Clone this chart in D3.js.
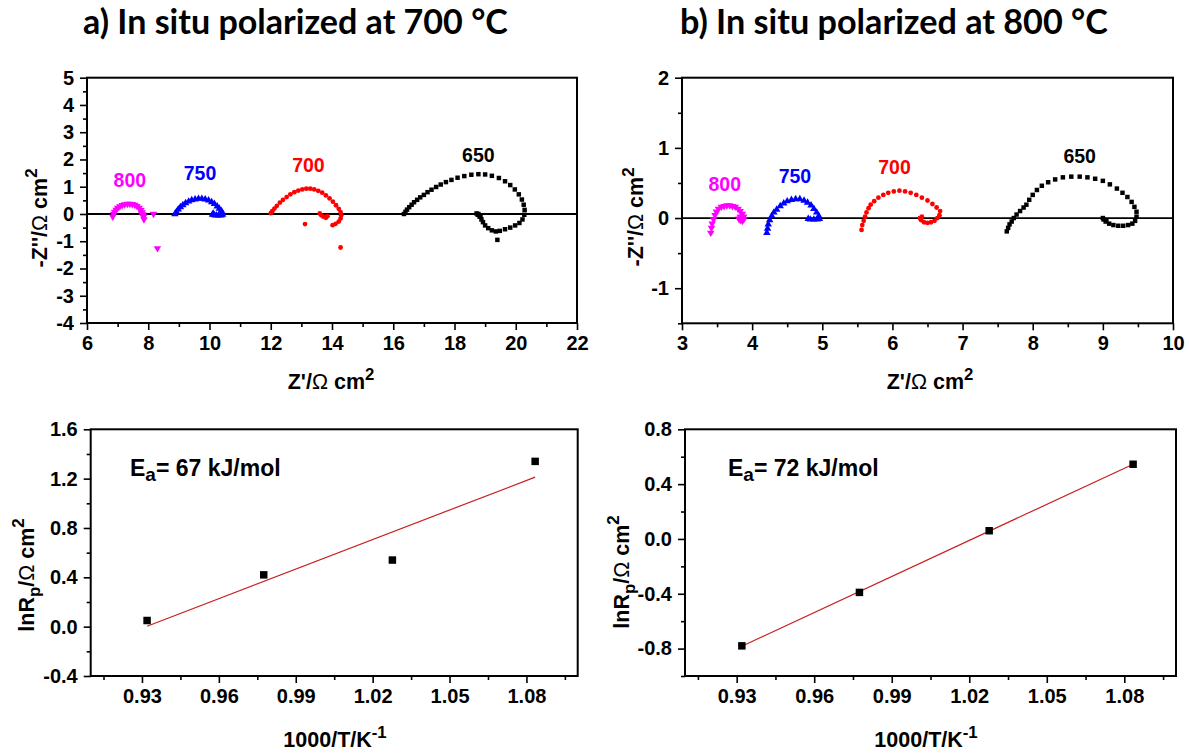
<!DOCTYPE html>
<html><head><meta charset="utf-8">
<script src="https://cdn.jsdelivr.net/npm/d3@7"></script>
<style>body{margin:0;background:#fff}svg{display:block}</style>
</head><body>
<svg id="chart" width="1189" height="755"></svg>
<script>
// ---------------- DATA ----------------
const temperatures = ["800", "750", "700", "650"];

// Panel a) Nyquist, polarized at 700 °C  [Z', -Z'']
const a800 = [[6.84,-0.10],[6.87,0.0],[6.9,0.08],[6.95,0.15],[7.0,0.22],[7.07,0.28],[7.15,0.32],[7.23,0.35],[7.32,0.37],[7.4,0.37],[7.48,0.36],[7.56,0.33],[7.63,0.29],[7.7,0.22],[7.76,0.14],[7.8,0.06],[7.83,-0.02],[7.85,-0.1],[7.86,-0.2],[7.82,-0.05],[7.78,0.02],[8.17,0.0],[8.3,-1.26]];
const a750 = [[8.87,0.0],[8.92,0.08],[8.98,0.17],[9.05,0.25],[9.13,0.33],[9.22,0.4],[9.32,0.46],[9.42,0.51],[9.53,0.54],[9.64,0.56],[9.75,0.56],[9.86,0.54],[9.97,0.5],[10.07,0.44],[10.16,0.37],[10.25,0.28],[10.32,0.2],[10.38,0.12],[10.42,0.05],[10.43,-0.02],[10.38,-0.05],[10.3,-0.05],[10.22,-0.05],[10.15,-0.04],[10.1,-0.02],[10.12,0.02]];
const a700 = [[12.0,0.03],[12.05,0.1],[12.12,0.2],[12.2,0.3],[12.3,0.42],[12.4,0.52],[12.52,0.62],[12.64,0.72],[12.77,0.8],[12.9,0.86],[13.03,0.9],[13.16,0.93],[13.29,0.93],[13.42,0.9],[13.55,0.85],[13.68,0.78],[13.8,0.68],[13.92,0.57],[14.03,0.45],[14.13,0.32],[14.22,0.19],[14.28,0.07],[14.3,-0.05],[14.28,-0.17],[14.22,-0.28],[14.12,-0.36],[14.02,-0.41],[13.6,0.02],[13.65,-0.05],[13.72,-0.1],[13.8,-0.14],[13.85,-0.08],[13.12,-0.37],[14.28,-1.23]];
const a650 = [[16.35,0.0],[16.4,0.08],[16.45,0.16],[16.52,0.25],[16.6,0.34],[16.68,0.43],[16.78,0.52],[16.88,0.61],[17.0,0.7],[17.12,0.8],[17.25,0.89],[17.4,0.99],[17.55,1.08],[17.72,1.17],[17.9,1.25],[18.1,1.33],[18.32,1.39],[18.55,1.44],[18.78,1.46],[19.0,1.45],[19.22,1.4],[19.45,1.32],[19.65,1.2],[19.82,1.06],[19.97,0.9],[20.1,0.72],[20.2,0.53],[20.26,0.34],[20.29,0.15],[20.28,-0.03],[20.22,-0.2],[20.12,-0.33],[19.98,-0.42],[19.82,-0.5],[19.65,-0.56],[19.48,-0.62],[19.35,-0.64],[19.22,-0.6],[19.1,-0.52],[19.0,-0.42],[18.93,-0.3],[18.88,-0.2],[18.82,-0.1],[18.76,-0.03],[18.72,0.02],[18.78,0.0],[18.85,-0.06],[19.4,-0.95]];

// Panel b) Nyquist, polarized at 800 °C
const b800 = [[3.41,-0.21],[3.42,-0.14],[3.43,-0.08],[3.45,-0.02],[3.47,0.04],[3.49,0.09],[3.52,0.13],[3.56,0.16],[3.6,0.17],[3.64,0.18],[3.68,0.18],[3.72,0.17],[3.76,0.16],[3.8,0.13],[3.83,0.1],[3.86,0.06],[3.88,0.02],[3.88,-0.02],[3.86,-0.04],[3.83,-0.03],[3.81,-0.01],[3.83,0.02]];
const b750 = [[4.21,-0.21],[4.22,-0.15],[4.23,-0.09],[4.25,-0.03],[4.28,0.03],[4.31,0.08],[4.35,0.12],[4.4,0.17],[4.45,0.21],[4.5,0.24],[4.56,0.26],[4.62,0.27],[4.68,0.27],[4.74,0.25],[4.79,0.22],[4.84,0.18],[4.88,0.13],[4.92,0.08],[4.95,0.03],[4.96,-0.01],[4.93,-0.02],[4.88,-0.02],[4.83,-0.02],[4.8,-0.01]];
const b700 = [[5.56,-0.17],[5.57,-0.1],[5.59,-0.04],[5.61,0.02],[5.63,0.08],[5.66,0.14],[5.69,0.19],[5.74,0.24],[5.8,0.29],[5.87,0.33],[5.94,0.36],[6.02,0.38],[6.1,0.39],[6.18,0.38],[6.26,0.36],[6.34,0.33],[6.42,0.29],[6.5,0.25],[6.57,0.2],[6.63,0.15],[6.68,0.1],[6.67,0.04],[6.64,0.0],[6.6,-0.04],[6.55,-0.06],[6.5,-0.07],[6.45,-0.06],[6.41,-0.03],[6.39,0.0],[6.42,0.02]];
const b650 = [[7.63,-0.19],[7.65,-0.14],[7.67,-0.09],[7.7,-0.05],[7.73,0.0],[7.77,0.05],[7.82,0.1],[7.87,0.15],[7.91,0.19],[7.95,0.26],[8.0,0.33],[8.06,0.4],[8.13,0.46],[8.22,0.51],[8.32,0.55],[8.43,0.58],[8.55,0.59],[8.67,0.59],[8.78,0.58],[8.89,0.56],[9.0,0.53],[9.1,0.48],[9.2,0.42],[9.28,0.36],[9.35,0.3],[9.41,0.23],[9.45,0.16],[9.48,0.09],[9.48,0.02],[9.46,-0.04],[9.42,-0.08],[9.36,-0.1],[9.29,-0.11],[9.22,-0.11],[9.15,-0.1],[9.09,-0.08],[9.04,-0.05],[9.01,-0.02],[9.0,0.0],[9.05,-0.03]];

// Arrhenius plots
const invT = [0.932, 0.9775, 1.0277, 1.0834];      // 1000/T (K^-1)
const lnRpA = [0.05, 0.42, 0.54, 1.34];
const lnRpB = [-0.78, -0.39, 0.06, 0.545];
const eaValues = ["67", "72"];

// Tick labels
const xTicksTopA = [6, 8, 10, 12, 14, 16, 18, 20, 22];
const yTicksTopA = [-4, -3, -2, -1, 0, 1, 2, 3, 4, 5];
const xTicksTopB = [3, 4, 5, 6, 7, 8, 9, 10];
const yTicksTopB = [-1, 0, 1, 2];
const xTicksBottom = [0.93, 0.96, 0.99, 1.02, 1.05, 1.08];
const yTicksBottomA = [-0.4, 0.0, 0.4, 0.8, 1.2, 1.6];
const yTicksBottomB = [-0.8, -0.4, 0.0, 0.4, 0.8];

const titles = ["a) In situ polarized at 700 °C", "b) In situ polarized at 800 °C"];

// ---------------- DRAWING ----------------
const svg = d3.select("#chart");
const FONT = "'Liberation Sans', Arial, sans-serif";
const seriesColor = {"800": "#ff00ff", "750": "#0000ff", "700": "#ff0000", "650": "#000000"};
const seriesSymbol = {"800": "down", "750": "up", "700": "circle", "650": "square"};
const hy = f => d => f(d).replace("\u2212", "-");
const TICK_FS = 20, TITLE_FS = 21.5;

function minorBetween(major, step, lo, hi) {
  const out = [];
  for (let v = major[0] - step; v <= hi + 1e-9; v += step) {
    if (v < lo - 1e-9) continue;
    if (major.some(m => Math.abs(m - v) < step / 10)) continue;
    out.push(+v.toFixed(4));
  }
  return out;
}

function frame(x, y, o) {
  const [x0, x1] = x.range(), [y0, y1] = y.range();
  const g = svg.append("g");
  const style = sel => {
    sel.select(".domain").remove();
    sel.selectAll(".tick line").attr("stroke", "#000").attr("stroke-width", 1.6);
    sel.selectAll(".tick text").attr("font-family", FONT).attr("font-weight", "bold")
      .attr("font-size", TICK_FS).attr("fill", "#000");
  };
  g.append("g").attr("transform", `translate(0,${y0})`)
    .call(d3.axisBottom(x).tickValues(o.xMinor).tickSize(4).tickSizeOuter(0).tickFormat("")).call(style);
  g.append("g").attr("transform", `translate(0,${y0})`)
    .call(d3.axisBottom(x).tickValues(o.xMajor).tickSize(7).tickPadding(6).tickSizeOuter(0).tickFormat(o.fx)).call(style);
  g.append("g").attr("transform", `translate(${x0},0)`)
    .call(d3.axisLeft(y).tickValues(o.yMinor).tickSize(4).tickSizeOuter(0).tickFormat("")).call(style);
  g.append("g").attr("transform", `translate(${x0},0)`)
    .call(d3.axisLeft(y).tickValues(o.yMajor).tickSize(7).tickPadding(6).tickSizeOuter(0).tickFormat(o.fy)).call(style);
  g.append("rect").attr("x", x0).attr("y", y1).attr("width", x1 - x0).attr("height", y0 - y1)
    .attr("fill", "none").attr("stroke", "#000").attr("stroke-width", 2);
  return g;
}

function symbolPath(kind, size) {
  const t = {down: d3.symbolTriangle, up: d3.symbolTriangle, circle: d3.symbolCircle, square: d3.symbolSquare}[kind];
  return d3.symbol().type(t).size(size)();
}

function label(g, parts, x, y, rotate, size) {
  const t = g.append("text").attr("font-family", FONT).attr("font-weight", "bold")
    .attr("font-size", size).attr("fill", "#000").attr("text-anchor", "middle")
    .attr("transform", `translate(${x},${y})` + (rotate ? " rotate(-90)" : ""));
  parts.forEach(p => {
    const s = t.append("tspan").text(p.t);
    if (p.sup) s.attr("font-size", size * 0.78).attr("dy", -size * 0.42);
    if (p.sub) s.attr("font-size", size * 0.78).attr("dy", size * 0.3);
    if (p.back) s.attr("dy", p.back);
    if (p.light) s.attr("font-weight", "normal");
  });
  return t;
}

function nyquist(o) {
  const x = d3.scaleLinear().domain(o.xd).range(o.xr);
  const y = d3.scaleLinear().domain(o.yd).range(o.yr);
  const g = frame(x, y, o);
  g.append("line").attr("x1", o.xr[0]).attr("x2", o.xr[1]).attr("y1", y(0)).attr("y2", y(0))
    .attr("stroke", "#000").attr("stroke-width", 1.8);
  o.series.forEach((pts, i) => {
    const key = temperatures[i];
    const kind = seriesSymbol[key];
    const size = kind === "circle" ? 18 : kind === "square" ? 20 : 24;
    g.append("g").selectAll("path").data(pts).join("path")
      .attr("d", symbolPath(kind, size))
      .attr("transform", d => `translate(${x(d[0])},${y(d[1])})` + (kind === "down" ? " rotate(180)" : ""))
      .attr("fill", seriesColor[key]);
    const lp = o.labelPos[i];
    g.append("text").attr("x", x(lp[0])).attr("y", y(lp[1])).attr("text-anchor", "middle")
      .attr("font-family", FONT).attr("font-weight", "bold").attr("font-size", 19.5)
      .attr("fill", seriesColor[key]).text(key);
  });
  label(g, [{t: "Z'/"}, {t: "\u03A9", light: true}, {t: " cm"}, {t: "2", sup: true}], o.xLabel[0], o.xLabel[1], false, TITLE_FS);
  label(g, [{t: "-Z''/"}, {t: "\u03A9", light: true}, {t: " cm"}, {t: "2", sup: true}], o.yLabel[0], o.yLabel[1], true, TITLE_FS);
}

function arrhenius(o) {
  const x = d3.scaleLinear().domain(o.xd).range(o.xr);
  const y = d3.scaleLinear().domain(o.yd).range(o.yr);
  const g = frame(x, y, o);
  const vals = o.xs.map((v, i) => [v, o.ys[i]]);
  // least squares fit
  const mx = d3.mean(o.xs), my = d3.mean(o.ys);
  const slope = d3.sum(vals, d => (d[0] - mx) * (d[1] - my)) / d3.sum(vals, d => (d[0] - mx) ** 2);
  const icpt = my - slope * mx;
  const xe = d3.extent(o.xs);
  g.append("line").attr("x1", x(xe[0])).attr("x2", x(xe[1]))
    .attr("y1", y(icpt + slope * xe[0])).attr("y2", y(icpt + slope * xe[1]))
    .attr("stroke", "#c82020").attr("stroke-width", 1.2);
  g.append("g").selectAll("path").data(vals).join("path")
    .attr("d", symbolPath("square", 56))
    .attr("transform", d => `translate(${x(d[0])},${y(d[1])})`).attr("fill", "#000");
  const t = g.append("text").attr("x", o.eaPos[0]).attr("y", o.eaPos[1]).attr("font-family", FONT)
    .attr("font-weight", "bold").attr("font-size", 23).attr("fill", "#000");
  t.append("tspan").text("E");
  t.append("tspan").text("a").attr("font-size", 19).attr("dy", 5);
  t.append("tspan").text("= " + o.ea + " kJ/mol").attr("dy", -5);
  label(g, [{t: "1000/T/K"}, {t: "-1", sup: true}], o.xLabel[0], o.xLabel[1], false, TITLE_FS);
  label(g, [{t: "lnR"}, {t: "p", sub: true}, {t: "/", back: -TITLE_FS * 0.3}, {t: "\u03A9", light: true}, {t: " cm"}, {t: "2", sup: true}], o.yLabel[0], o.yLabel[1], true, TITLE_FS);
}

const f0 = hy(d3.format("d")), f1 = hy(d3.format(".1f")), f2 = hy(d3.format(".2f"));

nyquist({xd: [6, 22], xr: [87, 577], yd: [-4, 5], yr: [323, 77.7],
  xMajor: xTicksTopA, xMinor: minorBetween(xTicksTopA, 1, 6, 22),
  yMajor: yTicksTopA, yMinor: minorBetween(yTicksTopA, 0.5, -4, 5), fx: f0, fy: f0,
  series: [a800, a750, a700, a650],
  labelPos: [[7.40, 0.98], [9.69, 1.245], [13.23, 1.55], [18.78, 1.92]],
  xLabel: [331, 389], yLabel: [46.5, 218]});

nyquist({xd: [3, 10], xr: [682, 1173], yd: [-1.5, 2], yr: [323.3, 77.7],
  xMajor: xTicksTopB, xMinor: minorBetween(xTicksTopB, 0.5, 3, 10),
  yMajor: yTicksTopB, yMinor: minorBetween(yTicksTopB, 0.5, -1.5, 2), fx: f0, fy: f0,
  series: [b800, b750, b700, b650],
  labelPos: [[3.61, 0.385], [4.61, 0.50], [6.03, 0.63], [8.67, 0.79]],
  xLabel: [930, 389], yLabel: [643, 217]});

arrhenius({xd: [0.91, 1.10], xr: [90.7, 577.7], yd: [-0.4, 1.6], yr: [676, 429.3],
  xMajor: xTicksBottom, xMinor: minorBetween(xTicksBottom, 0.015, 0.91, 1.10),
  yMajor: yTicksBottomA, yMinor: minorBetween(yTicksBottomA, 0.2, -0.4, 1.6), fx: f2, fy: f1,
  xs: invT, ys: lnRpA, ea: eaValues[0], eaPos: [130, 476],
  xLabel: [335, 747], yLabel: [33.5, 575]});

arrhenius({xd: [0.91, 1.10], xr: [685, 1176], yd: [-1.0, 0.8], yr: [676, 429.3],
  xMajor: xTicksBottom, xMinor: minorBetween(xTicksBottom, 0.015, 0.91, 1.10),
  yMajor: yTicksBottomB, yMinor: minorBetween(yTicksBottomB, 0.2, -1.0, 0.8), fx: f2, fy: f1,
  xs: invT, ys: lnRpB, ea: eaValues[1], eaPos: [728, 476],
  xLabel: [926, 747], yLabel: [628.5, 572]});

// Titles
const titlePos = [[83, 34, 425], [680, 34, 428]];
titles.forEach((txt, i) => {
  const t = svg.append("text").attr("x", titlePos[i][0]).attr("y", titlePos[i][1])
    .attr("font-family", "Lato, 'Open Sans', sans-serif").attr("font-weight", "bold")
    .attr("font-size", 28).attr("fill", "#000").text(txt);
  const w = t.node().getComputedTextLength();
  t.attr("font-size", 28 * titlePos[i][2] / w);
});
</script>
</body></html>
